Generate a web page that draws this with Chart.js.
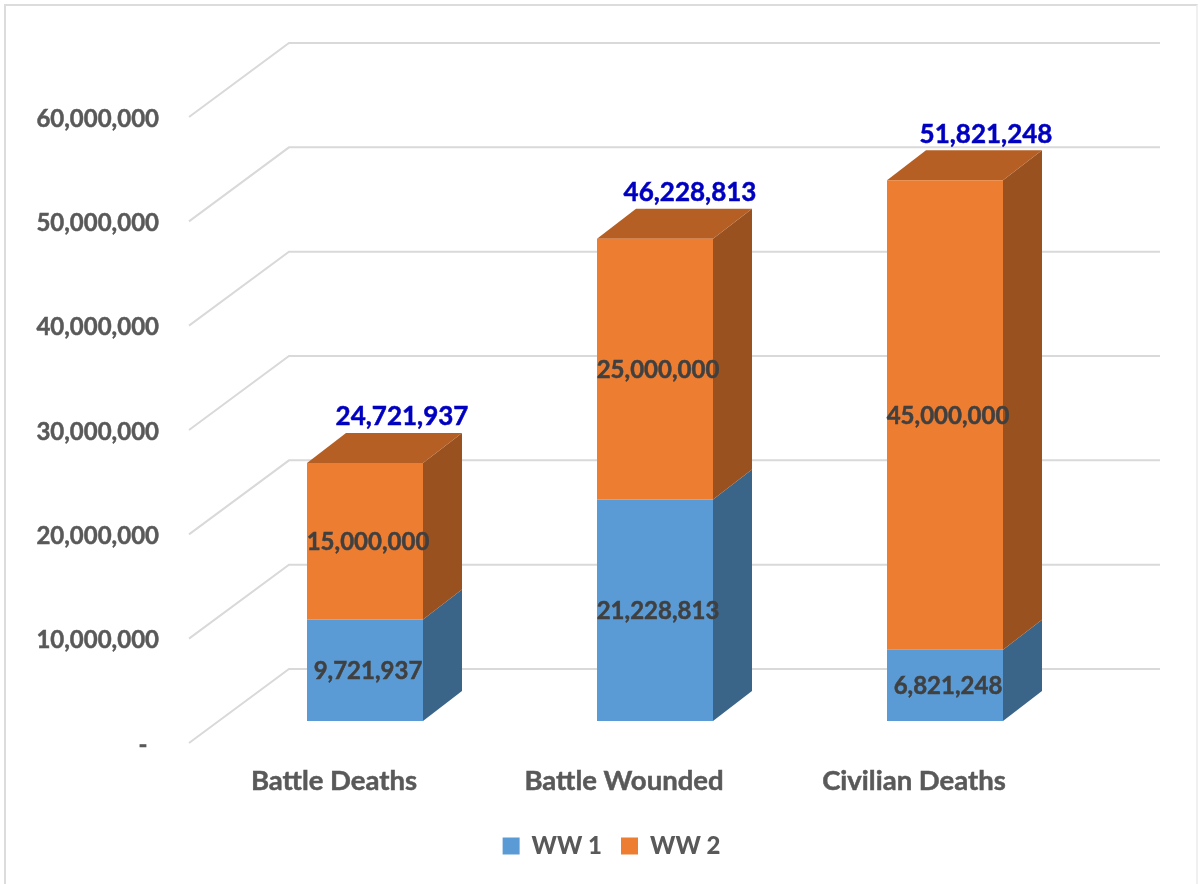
<!DOCTYPE html>
<html>
<head>
<meta charset="utf-8">
<title>War casualties</title>
<script src="https://cdn.jsdelivr.net/npm/chart.js@4"></script>
<style>
html, body { margin: 0; padding: 0; background: #fff; }
#wrap { position: relative; width: 1200px; height: 884px; overflow: hidden; }
#frame { position: absolute; left: 4px; top: 4px; width: 1194px; height: 890px; border: 2px solid #dcdcdc; border-right-color: #f0f0f0; box-sizing: border-box; }
</style>
</head>
<body>
<div id="wrap">
<canvas id="myChart" width="1200" height="884"></canvas>
<div id="frame"></div>
</div>
<script>
const categories = ['Battle Deaths', 'Battle Wounded', 'Civilian Deaths'];
const ww1 = [9721937, 21228813, 6821248];
const ww2 = [15000000, 25000000, 45000000];
const totals = [24721937, 46228813, 51821248];
const tickStep = 10000000;
const tickMax = 60000000;

const FONT = 'Lato, "Open Sans", sans-serif';
const barShift = { x: 31, y: -22 };   // bars sit a bit behind the front plane
const barDepth = { x: 39, y: -30 };
const wallDepth = { x: 100, y: -74 };
const totalNudge = [37, 35, 41];      // total labels aren't evenly placed over the bars
const sideColors = ['#3A6589', '#9A5120'];
const topColor = '#B55F24';

function poly(ctx, pts, color) {
    ctx.fillStyle = color;
    ctx.beginPath();
    pts.forEach((p, i) => i ? ctx.lineTo(p[0], p[1]) : ctx.moveTo(p[0], p[1]));
    ctx.closePath();
    ctx.fill();
}

function boldText(ctx, text, x, y, color) {
    ctx.fillStyle = color;
    ctx.strokeStyle = color;
    ctx.lineWidth = 0.5;
    ctx.fillText(text, x, y);
    ctx.strokeText(text, x, y);
}

const depthPlugin = {
    id: 'depth',
    afterLayout(chart) {
        // legend is centred under the whole picture, not the plot
        chart.legend.left += 82;
        chart.legend.right += 82;
    },
    beforeDraw(chart) {
        // value labels sit slightly under their tick position
        chart.scales.y.getLabelItems().forEach(item => { item.textOffset = 2; });
    },
    beforeDatasetsDraw(chart) {
        const ctx = chart.ctx, area = chart.chartArea, yScale = chart.scales.y;
        // floor / wall lines
        ctx.save();
        ctx.strokeStyle = '#d9d9d9';
        ctx.lineWidth = 2;
        yScale.ticks.forEach(t => {
            const y = yScale.getPixelForValue(t.value);
            ctx.beginPath();
            ctx.moveTo(area.left, y);
            ctx.lineTo(area.left + wallDepth.x, y + wallDepth.y);
            ctx.lineTo(area.right + wallDepth.x + 1, y + wallDepth.y);
            ctx.stroke();
        });
        ctx.restore();

        ctx.save();
        ctx.translate(barShift.x, barShift.y);
        chart.data.datasets.forEach((ds, d) => {
            chart.getDatasetMeta(d).data.forEach(bar => {
                const { x, y, base, width } = bar.getProps(['x', 'y', 'base', 'width'], true);
                const r = x + width / 2, l = x - width / 2;
                poly(ctx, [[r, y], [r + barDepth.x, y + barDepth.y], [r + barDepth.x, base + barDepth.y], [r, base]], sideColors[d]);
                if (d === chart.data.datasets.length - 1) {
                    poly(ctx, [[l, y], [l + barDepth.x, y + barDepth.y], [r + barDepth.x, y + barDepth.y], [r, y]], topColor);
                }
            });
        });
    },
    afterDatasetsDraw(chart) {
        const ctx = chart.ctx;
        ctx.textAlign = 'center';
        ctx.textBaseline = 'middle';
        ctx.font = 'bold 24px ' + FONT;
        chart.data.datasets.forEach((ds, d) => {
            chart.getDatasetMeta(d).data.forEach((bar, i) => {
                const { x, y, base } = bar.getProps(['x', 'y', 'base'], true);
                boldText(ctx, ds.data[i].toLocaleString('en-US'), x + 3, (y + base) / 2 + 1, '#404040');
            });
        });
        ctx.font = 'bold 26px ' + FONT;
        chart.getDatasetMeta(1).data.forEach((bar, i) => {
            boldText(ctx, totals[i].toLocaleString('en-US'), bar.x + totalNudge[i], bar.y + barDepth.y - 16, '#0000C0');
        });
        ctx.restore();
    }
};

new Chart(document.getElementById('myChart'), {
    type: 'bar',
    data: {
        labels: categories,
        datasets: [
            { label: 'WW 1', data: ww1, backgroundColor: '#5B9BD5', clip: false },
            { label: 'WW 2', data: ww2, backgroundColor: '#ED7D31', clip: false }
        ]
    },
    options: {
        responsive: false,
        animation: false,
        layout: { padding: { top: 117, right: 141, bottom: 16, left: 0 } },
        datasets: { bar: { categoryPercentage: 0.4, barPercentage: 1 } },
        scales: {
            x: {
                stacked: true,
                grid: { display: false },
                border: { display: false },
                afterFit: s => { s.height = 72; },
                ticks: {
                    color: '#595959', font: { family: FONT, size: 27.5, weight: 'bold' }, padding: 14, maxRotation: 0,
                    textStrokeColor: '#595959', textStrokeWidth: 0.5
                }
            },
            y: {
                stacked: true,
                min: 0,
                max: tickMax,
                grid: { display: false },
                border: { display: false },
                afterFit: s => { s.width = 189; },
                ticks: {
                    stepSize: tickStep,
                    padding: 22,
                    color: '#595959',
                    font: { family: FONT, size: 24, weight: 'bold' },
                    textStrokeColor: '#595959',
                    textStrokeWidth: 0.5,
                    callback: v => v === 0 ? '-  ' : v.toLocaleString('en-US')
                }
            }
        },
        plugins: {
            tooltip: { enabled: false },
            legend: {
                position: 'bottom',
                labels: { boxWidth: 17, boxHeight: 17, padding: 19, color: '#595959', font: { family: FONT, size: 24, weight: '900' } }
            }
        }
    },
    plugins: [depthPlugin]
});
</script>
</body>
</html>
